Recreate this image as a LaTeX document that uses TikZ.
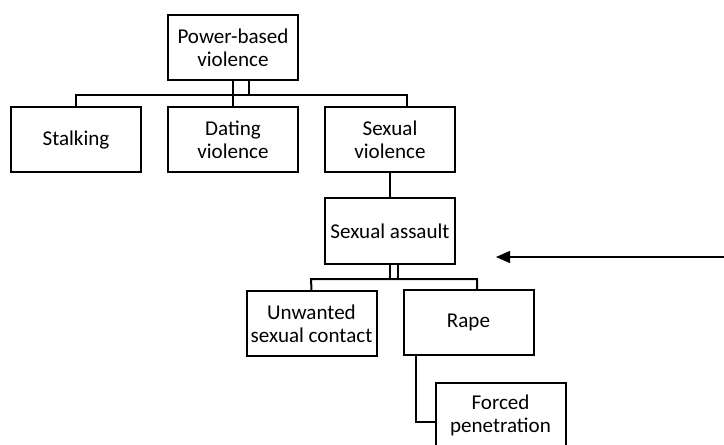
\documentclass[tikz,border=0pt]{standalone}
\usepackage{fontspec}
\setmainfont{Carlito}
\usetikzlibrary{arrows.meta}
\tikzset{
	box/.style={draw, line width=1.5pt, minimum width=97.5pt, minimum height=48.75pt, inner sep=1pt, align=center, font=\fontsize{15.8}{17.3}\selectfont},
	link/.style={line width=1.5pt},
}
\begin{document}
\begin{tikzpicture}[x=0.75pt, y=-0.75pt]
		\useasboundingbox (0,0) rectangle (724,445);
		% BLOCKS
		\node (power) [box] at (233,47.5) {Power-based\\violence};
		\node (stalk) [box] at (76,139.5) {Stalking};
		\node (dating) [box] at (233,139.5) {Dating\\violence};
		\node (sexviol) [box] at (390,139.5) {Sexual\\violence};
		\node (assault) [box] at (390,231) {Sexual assault};
		\node (unwanted) [box] at (311.5,323.5) {Unwanted\\sexual contact};
		\node (rape) [box] at (468.5,322.5) {Rape};
		\node (forced) [box] at (500.5,415) {Forced\\penetration};

		% JOINTS
		\coordinate (barL) at (76,95);
		\coordinate (barR) at (407,95);
		\coordinate (pw2) at (249,80);
		\coordinate (bar2L) at (311,279);
		\coordinate (bar2R) at (477,279);
		\coordinate (as2) at (398,263);
		\coordinate (rp) at (416,355);
		\coordinate (fp) at (436,422);
		\coordinate (arrstart) at (724,257);
		\coordinate (arrtip) at (496,257);

		% LINES
		\draw [link] (stalk.north) -- (barL) -- (barR) -- (barR |- sexviol.north);
		\draw [link] (power.south) -- (dating.north);
		\draw [link] (pw2) -- (pw2 |- barL);
		\draw [link] (sexviol.south) -- (assault.north);
		\draw [link] (unwanted.north) -- (bar2L) -- (bar2R) -- (bar2R |- rape.north);
		\draw [link] (assault.south) -- (assault.south |- bar2L);
		\draw [link] (as2) -- (as2 |- bar2L);
		\draw [link] (rp) |- (fp);
		\draw [line width=0.9pt, -{Triangle[length=10.5pt, width=9pt]}] (arrstart) -- (arrtip);
	\end{tikzpicture}
\end{document}
